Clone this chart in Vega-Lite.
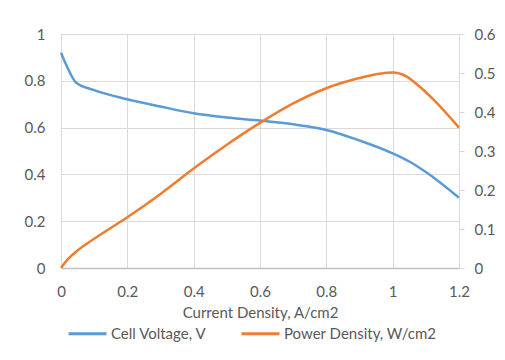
{
  "$schema": "https://vega.github.io/schema/vega-lite/v6.json",
  "width": 398,
  "height": 234,
  "autosize": "none",
  "padding": {"left": 61, "top": 34, "right": 46, "bottom": 92},
  "background": "white",
  "config": {
    "view": {"stroke": null},
    "font": "Lato",
    "axis": {"labelFont": "Lato", "titleFont": "Lato", "labelColor": "#595959", "titleColor": "#595959", "labelFontSize": 15, "titleFontSize": 15, "titleFontWeight": "normal", "gridColor": "#D9D9D9", "gridWidth": 1, "labelFlush": false},
    "legend": {"labelFont": "Lato", "labelFontSize": 15, "labelColor": "#595959"}
  },
  "data": {
    "values": [
      {"x": 0, "v": 0.92, "series": "Cell Voltage, V"},
      {"x": 0.02, "v": 0.855, "series": "Cell Voltage, V"},
      {"x": 0.045, "v": 0.793, "series": "Cell Voltage, V"},
      {"x": 0.1, "v": 0.76, "series": "Cell Voltage, V"},
      {"x": 0.2, "v": 0.721, "series": "Cell Voltage, V"},
      {"x": 0.3, "v": 0.69, "series": "Cell Voltage, V"},
      {"x": 0.4, "v": 0.661, "series": "Cell Voltage, V"},
      {"x": 0.5, "v": 0.643, "series": "Cell Voltage, V"},
      {"x": 0.6, "v": 0.63, "series": "Cell Voltage, V"},
      {"x": 0.7, "v": 0.614, "series": "Cell Voltage, V"},
      {"x": 0.8, "v": 0.59, "series": "Cell Voltage, V"},
      {"x": 0.9, "v": 0.545, "series": "Cell Voltage, V"},
      {"x": 1.0, "v": 0.49, "series": "Cell Voltage, V"},
      {"x": 1.05, "v": 0.455, "series": "Cell Voltage, V"},
      {"x": 1.1, "v": 0.41, "series": "Cell Voltage, V"},
      {"x": 1.2, "v": 0.3, "series": "Cell Voltage, V"},
      {"x": 0, "v": 0, "series": "Power Density, W/cm2"},
      {"x": 0.02, "v": 0.022, "series": "Power Density, W/cm2"},
      {"x": 0.05, "v": 0.045, "series": "Power Density, W/cm2"},
      {"x": 0.1, "v": 0.075, "series": "Power Density, W/cm2"},
      {"x": 0.2, "v": 0.13, "series": "Power Density, W/cm2"},
      {"x": 0.3, "v": 0.19, "series": "Power Density, W/cm2"},
      {"x": 0.4, "v": 0.255, "series": "Power Density, W/cm2"},
      {"x": 0.5, "v": 0.316, "series": "Power Density, W/cm2"},
      {"x": 0.6, "v": 0.372, "series": "Power Density, W/cm2"},
      {"x": 0.7, "v": 0.422, "series": "Power Density, W/cm2"},
      {"x": 0.8, "v": 0.461, "series": "Power Density, W/cm2"},
      {"x": 0.9, "v": 0.487, "series": "Power Density, W/cm2"},
      {"x": 0.96, "v": 0.498, "series": "Power Density, W/cm2"},
      {"x": 1.0, "v": 0.501, "series": "Power Density, W/cm2"},
      {"x": 1.04, "v": 0.492, "series": "Power Density, W/cm2"},
      {"x": 1.08, "v": 0.466, "series": "Power Density, W/cm2"},
      {"x": 1.13, "v": 0.426, "series": "Power Density, W/cm2"},
      {"x": 1.2, "v": 0.36, "series": "Power Density, W/cm2"}
    ]
  },
  "encoding": {
    "x": {
      "field": "x", "type": "quantitative",
      "scale": {"domain": [0, 1.2], "nice": false, "zero": true},
      "axis": {"values": [0, 0.2, 0.4, 0.6, 0.8, 1, 1.2], "format": "~g", "title": "Current Density, A/cm2", "ticks": false, "domainColor": "#BFBFBF", "domainWidth": 1.5, "labelPadding": 16, "titlePadding": 6, "grid": true}
    },
    "color": {
      "field": "series", "type": "nominal",
      "scale": {"domain": ["Cell Voltage, V", "Power Density, W/cm2"], "range": ["#5B9BD5", "#ED7D31"]},
      "legend": {"title": null, "orient": "none", "direction": "horizontal", "legendX": 6, "legendY": 279, "symbolType": "stroke", "symbolSize": 1444, "symbolStrokeWidth": 3, "labelOffset": 3, "columnPadding": 28}
    }
  },
  "layer": [
    {
      "transform": [{"filter": "datum.series === 'Cell Voltage, V'"}],
      "mark": {"type": "line", "interpolate": "monotone", "strokeWidth": 2.5},
      "encoding": {
        "y": {"field": "v", "type": "quantitative", "scale": {"domain": [0, 1], "nice": false},
          "axis": {"values": [0, 0.2, 0.4, 0.6, 0.8, 1], "format": "~g", "title": null, "ticks": false, "domain": false, "labelPadding": 16, "grid": true}}
      }
    },
    {
      "transform": [{"filter": "datum.series === 'Power Density, W/cm2'"}],
      "mark": {"type": "line", "interpolate": "monotone", "strokeWidth": 2.5},
      "encoding": {
        "y": {"field": "v", "type": "quantitative", "scale": {"domain": [0, 0.6], "nice": false},
          "axis": {"orient": "right", "values": [0, 0.1, 0.2, 0.3, 0.4, 0.5, 0.6], "format": "~g", "title": null, "ticks": true, "tickSize": 5, "tickColor": "#D9D9D9", "domain": true, "domainColor": "#D9D9D9", "labelPadding": 10, "grid": false}}
      }
    }
  ],
  "resolve": {"scale": {"y": "independent"}}
}
